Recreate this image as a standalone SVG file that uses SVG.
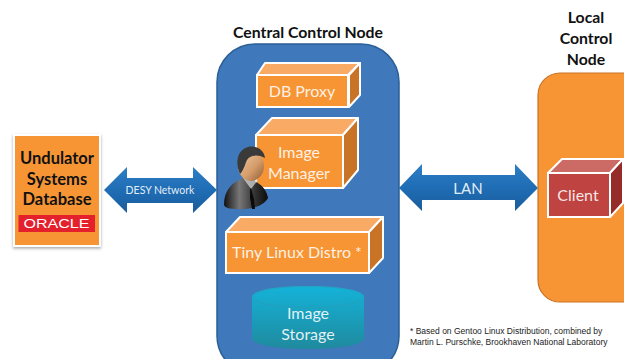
<svg xmlns="http://www.w3.org/2000/svg" width="624" height="359" viewBox="0 0 624 359">
<style>
text{font-family:Lato,"Open Sans","Noto Sans",sans-serif;text-anchor:middle}
.t{font-size:15.8px;font-weight:700;fill:#111}
.d{font-size:16.5px;font-weight:700;fill:#111}
.w{font-size:16px;fill:#fff;fill-opacity:.88}
.fr{fill:#f79535;stroke:#fff;stroke-width:2}
.tp{fill:#f9ab66;stroke:#fff;stroke-width:2;stroke-linejoin:round}
.sd{fill:#c97326;stroke:#fff;stroke-width:2;stroke-linejoin:round}
.note{font-family:"Liberation Sans",Arial,sans-serif;font-size:8.500px;fill:#222;text-anchor:start}
</style>
<defs>
<linearGradient id="arr" x1="0" y1="0" x2="0" y2="1"><stop offset="0" stop-color="#2f7fc4"/><stop offset=".5" stop-color="#1f6db5"/><stop offset="1" stop-color="#1a5d9c"/></linearGradient>
<linearGradient id="cyl" x1="0" y1="0" x2="0" y2="1"><stop offset="0" stop-color="#14b3d9"/><stop offset="1" stop-color="#1f8a9e"/></linearGradient>
<linearGradient id="skin" x1="0" y1="0" x2="1" y2="1"><stop offset="0" stop-color="#f3cfa8"/><stop offset=".6" stop-color="#d39a68"/><stop offset="1" stop-color="#8a5a35"/></linearGradient>
<linearGradient id="suit" x1="0" y1="0" x2="1" y2="0"><stop offset="0" stop-color="#111"/><stop offset=".35" stop-color="#777"/><stop offset=".7" stop-color="#333"/><stop offset="1" stop-color="#0a0a0a"/></linearGradient>
<filter id="sh" x="-10%" y="-10%" width="120%" height="120%"><feDropShadow dx="0" dy="1.500" stdDeviation="1.500" flood-color="#000" flood-opacity=".35"/></filter>
</defs>

<g id="connectors">
<path id="desy-network" d="M104 190L127 167V178H193V167L217 190L193 213V203H127V213Z" fill="url(#arr)"/>
<text x="160" y="194" font-size="10.500" fill="#fff" fill-opacity=".9">DESY Network</text>
<path id="lan" d="M399 188L422 164V175H515V164L538 188L515 211V200H422V211Z" fill="url(#arr)"/>
<text x="468" y="194" font-size="15" fill="#fff" fill-opacity=".9">LAN</text>
</g>

<g id="undulator-db">
<rect x="14" y="135" width="86" height="111" fill="#f79535" stroke="#fff" stroke-width="2" filter="url(#sh)"/>
<text class="d" x="57" y="164">Undulator</text>
<text class="d" x="57" y="185">Systems</text>
<text class="d" x="57" y="205">Database</text>
<rect x="18.500" y="215" width="76.500" height="17" fill="#e4202c"/>
<text x="56.500" y="228" font-size="13" textLength="66" lengthAdjust="spacingAndGlyphs" fill="#fff" style="font-family:'Liberation Sans',sans-serif">ORACLE</text>
</g>

<g id="central-control-node">
<text class="t" x="308" y="38">Central Control Node</text>
<rect x="217" y="44" width="182" height="330" rx="38" fill="#3f78bb" stroke="#2b5f96" stroke-width="1.500"/>
</g>

<g id="db-proxy">
<path class="tp" d="M257 75L265 63H360L348 75Z"/>
<path class="sd" d="M349 75L360 63V95L349 107Z"/>
<rect class="fr" x="257" y="75" width="91" height="32"/>
<text class="w" x="302" y="97">DB Proxy</text>
</g>

<g id="image-manager">
<path class="tp" d="M256 135L272 118H358L343 135Z"/>
<path class="sd" d="M343 135L358 118V170L343 188Z"/>
<rect class="fr" x="256" y="135" width="87" height="53"/>
<text class="w" x="299" y="158">Image</text>
<text class="w" x="299" y="179">Manager</text>
</g>

<g id="user-icon">
<path d="M224 205C224 190 232 182 244 178C256 180 266 186 268 198C264 206 250 210 238 209C230 209 225 208 224 205Z" fill="url(#suit)"/>
<path d="M251 188L254 199L255 209H252L250 198L250 188Z" fill="#0a0a0a"/>
<path d="M243 178L251 189L258 180Z" fill="#ddd" fill-opacity=".7"/>
<ellipse cx="251" cy="166" rx="13" ry="15" fill="url(#skin)"/>
<path d="M240 174C235 163 237 150 248 147C257 145 264 150 265 158C258 154 250 155 247 160C245 164 244 170 240 174Z" fill="#3a3a3a"/>
</g>

<g id="tiny-linux-distro">
<path class="tp" d="M226 232L240 217H383L369 232Z"/>
<path class="sd" d="M369 232L383 217V258L369 273Z"/>
<rect class="fr" x="226" y="232" width="143" height="41"/>
<text class="w" x="297" y="258">Tiny Linux Distro *</text>
</g>

<g id="image-storage">
<path d="M252 297C252 290 277 286 308 286C339 286 364 290 364 297V338C364 345 339 349 308 349C277 349 252 345 252 338Z" fill="url(#cyl)"/>
<ellipse cx="308" cy="297" rx="56" ry="10.500" fill="none" stroke="#2a9cb8" stroke-width=".7"/>
<text class="w" x="308" y="319">Image</text>
<text class="w" x="308" y="340">Storage</text>
</g>

<g id="local-control-node">
<text class="t" x="586" y="23">Local</text>
<text class="t" x="586" y="44">Control</text>
<text class="t" x="586" y="65">Node</text>
<rect x="538" y="73" width="110" height="229" rx="22" fill="#f79535" stroke="#c97326" stroke-width="1.200"/>
</g>

<g id="client">
<path d="M548 173L562 159H623L610 173Z" fill="#cc6a66" stroke="#fff" stroke-width="2" stroke-linejoin="round"/>
<path d="M610 173L623 159V203L610 217Z" fill="#952c2a" stroke="#fff" stroke-width="2" stroke-linejoin="round"/>
<rect x="548" y="173" width="62" height="44" fill="#bf4341" stroke="#fff" stroke-width="2"/>
<text class="w" x="578" y="201">Client</text>
</g>

<g id="footnote">
<text class="note" x="410" y="334">* Based on Gentoo Linux Distribution, combined by</text>
<text class="note" x="410" y="345">Martin L. Purschke, Brookhaven National Laboratory</text>
</g>
</svg>
